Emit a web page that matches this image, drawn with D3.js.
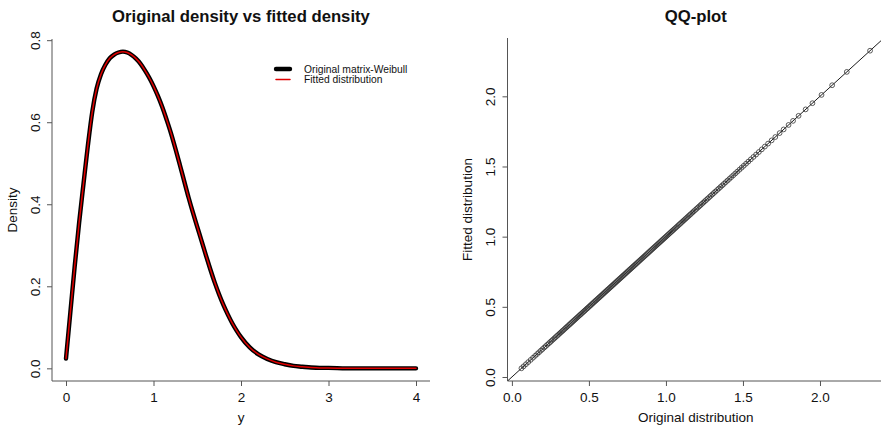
<!DOCTYPE html>
<html>
<head>
<meta charset="utf-8">
<script src="https://cdn.jsdelivr.net/npm/d3@7"></script>
<style>
  body { margin: 0; background: #fff; }
  svg { display: block; font-family: "Liberation Sans", Arial, Helvetica, sans-serif; }
</style>
</head>
<body>
<svg id="chart" width="881" height="431"></svg>
<script>
// left panel: density curves
var yGrid = [0, 0.05, 0.1, 0.15, 0.2, 0.25, 0.3, 0.35, 0.4, 0.45, 0.5, 0.55, 0.6, 0.65, 0.7, 0.75, 0.8, 0.85, 0.9, 0.95,
  1, 1.05, 1.1, 1.15, 1.2, 1.25, 1.3, 1.35, 1.4, 1.45, 1.5, 1.55, 1.6, 1.65, 1.7, 1.75, 1.8, 1.85, 1.9, 1.95,
  2, 2.1, 2.2, 2.3, 2.4, 2.5, 2.6, 2.7, 2.8, 2.9, 3, 3.2, 3.4, 3.6, 3.8, 4];
var originalDensity = [0.024, 0.137, 0.250, 0.355, 0.450, 0.543, 0.625, 0.682, 0.717, 0.740, 0.756, 0.765, 0.770, 0.772, 0.770, 0.764, 0.755, 0.743, 0.727, 0.709,
  0.688, 0.664, 0.637, 0.606, 0.573, 0.536, 0.497, 0.457, 0.417, 0.380, 0.345, 0.310, 0.275, 0.241, 0.209, 0.180, 0.154, 0.131, 0.110, 0.092,
  0.076, 0.051, 0.034, 0.023, 0.015, 0.010, 0.006, 0.004, 0.002, 0.001, 0.001, 0, 0, 0, 0, 0];
var fittedDensity = [0.024, 0.137, 0.250, 0.355, 0.450, 0.543, 0.625, 0.682, 0.717, 0.740, 0.756, 0.765, 0.770, 0.772, 0.770, 0.764, 0.755, 0.743, 0.727, 0.709,
  0.688, 0.664, 0.637, 0.606, 0.573, 0.536, 0.497, 0.457, 0.417, 0.380, 0.345, 0.310, 0.275, 0.241, 0.209, 0.180, 0.154, 0.131, 0.110, 0.092,
  0.076, 0.051, 0.034, 0.023, 0.015, 0.010, 0.006, 0.004, 0.002, 0.001, 0.001, 0, 0, 0, 0, 0];
var densityTicksX = [0, 1, 2, 3, 4];
var densityTicksY = [0, 0.2, 0.4, 0.6, 0.8];
var legendLabels = ["Original matrix-Weibull", "Fitted distribution"];

// right panel: quantiles (fitted ones sit on top of the original ones)
var originalQuantiles = [0.062, 0.076, 0.091, 0.106, 0.122, 0.137, 0.151, 0.164, 0.176, 0.188,
  0.199, 0.210, 0.220, 0.230, 0.240, 0.249, 0.258, 0.267, 0.276, 0.284,
  0.293, 0.301, 0.309, 0.317, 0.325, 0.332, 0.340, 0.348, 0.355, 0.362,
  0.370, 0.377, 0.384, 0.391, 0.398, 0.405, 0.412, 0.419, 0.426, 0.433,
  0.440, 0.446, 0.453, 0.460, 0.467, 0.473, 0.480, 0.487, 0.493, 0.500,
  0.507, 0.513, 0.520, 0.526, 0.533, 0.540, 0.546, 0.553, 0.559, 0.566,
  0.572, 0.579, 0.585, 0.592, 0.598, 0.605, 0.611, 0.618, 0.624, 0.631,
  0.637, 0.644, 0.650, 0.657, 0.663, 0.670, 0.676, 0.683, 0.689, 0.696,
  0.702, 0.709, 0.715, 0.722, 0.728, 0.735, 0.741, 0.748, 0.754, 0.761,
  0.767, 0.774, 0.780, 0.787, 0.793, 0.800,
  0.806, 0.813, 0.820, 0.827, 0.834, 0.841, 0.848, 0.855, 0.862, 0.869,
  0.876, 0.883, 0.890, 0.897, 0.904, 0.911, 0.918, 0.925, 0.932, 0.939,
  0.946, 0.953, 0.960, 0.967, 0.974, 0.981, 0.988, 0.995, 1.002, 1.009,
  1.016, 1.023, 1.030, 1.037, 1.044, 1.051, 1.059, 1.067, 1.075, 1.083,
  1.091, 1.099, 1.107, 1.115, 1.123, 1.131, 1.139, 1.147, 1.155, 1.163,
  1.172, 1.180, 1.189, 1.198, 1.207, 1.216, 1.225, 1.234, 1.243, 1.252,
  1.261, 1.271, 1.281, 1.291, 1.301, 1.311, 1.321, 1.332, 1.343, 1.354,
  1.365, 1.376, 1.388, 1.400, 1.412, 1.424, 1.437, 1.450, 1.463, 1.477,
  1.491, 1.505, 1.520, 1.535, 1.551, 1.568, 1.585, 1.603, 1.622, 1.642,
  1.663, 1.686, 1.710, 1.738, 1.764, 1.796, 1.825, 1.861, 1.907, 1.951,
  2.010, 2.079, 2.174, 2.325];
var fittedQuantiles = originalQuantiles;
var qqTicks = [0, 0.5, 1, 1.5, 2];

var svg = d3.select("#chart");
var axisCol = "#555";
var fs = 13.5;

// R style 4% padding of the data range
function padded(ext) {
  var r = ext[1] - ext[0];
  return [ext[0] - 0.04 * r, ext[1] + 0.04 * r];
}

function drawPanel(g, x, y, opts) {
  var r0 = x.range(), d0 = y.range();
  // L shaped box
  g.append("path")
    .attr("d", "M" + r0[0] + "," + d0[1] + "V" + d0[0] + "H" + r0[1])
    .attr("fill", "none").attr("stroke", axisCol).attr("stroke-width", 1);

  var xa = g.append("g").attr("transform", "translate(0," + d0[0] + ")")
    .call(d3.axisBottom(x).tickValues(opts.xTicks).tickSize(5).tickPadding(6.4).tickFormat(opts.xFmt));
  var ya = g.append("g").attr("transform", "translate(" + r0[0] + ",0)")
    .call(d3.axisLeft(y).tickValues(opts.yTicks).tickSize(5).tickFormat(opts.yFmt));
  [xa, ya].forEach(function (a) {
    a.select(".domain").remove();
    a.selectAll("line").attr("stroke", axisCol);
    a.selectAll("text").attr("fill", "#111").style("font-size", fs + "px")
      .style("font-family", '"Liberation Sans", Arial, sans-serif');
  });
  ya.selectAll("text")
    .attr("x", null).attr("dy", null)
    .attr("text-anchor", "middle")
    .attr("transform", "translate(-12.5,0) rotate(-90)");

  // titles
  g.append("text")
    .attr("x", (r0[0] + r0[1]) / 2).attr("y", 22)
    .attr("text-anchor", "middle")
    .style("font-size", "16.7px").style("font-weight", "bold").attr("fill", "#111")
    .text(opts.title);
  g.append("text")
    .attr("x", (r0[0] + r0[1]) / 2).attr("y", 422)
    .attr("text-anchor", "middle")
    .style("font-size", fs + "px").attr("fill", "#111")
    .text(opts.xLab);
  g.append("text")
    .attr("transform", "translate(" + (r0[0] - 35.5) + "," + ((d0[0] + d0[1]) / 2) + ") rotate(-90)")
    .attr("text-anchor", "middle")
    .style("font-size", fs + "px").attr("fill", "#111")
    .text(opts.yLab);
}

// ---------- left: densities ----------
var xD = d3.scaleLinear().domain(padded(d3.extent(yGrid))).range([52, 430]);
var yD = d3.scaleLinear().domain(padded(d3.extent(originalDensity))).range([381, 39]);
var left = svg.append("g");
drawPanel(left, xD, yD, {
  xTicks: densityTicksX, yTicks: densityTicksY,
  xFmt: d3.format("d"), yFmt: d3.format(".1f"),
  title: "Original density vs fitted density", xLab: "y", yLab: "Density"
});

var line = d3.line()
  .x(function (d, i) { return xD(yGrid[i]); })
  .y(function (d) { return yD(d); })
  .curve(d3.curveMonotoneX);

left.append("path")
  .datum(originalDensity)
  .attr("d", line)
  .attr("fill", "none").attr("stroke", "#000").attr("stroke-width", 4.4)
  .attr("stroke-linecap", "round").attr("stroke-linejoin", "round");
left.append("path")
  .datum(fittedDensity)
  .attr("d", line)
  .attr("fill", "none").attr("stroke", "#e00000").attr("stroke-width", 1.5)
  .attr("stroke-linecap", "round").attr("stroke-linejoin", "round");

// legend
var legend = left.append("g").attr("transform", "translate(275,69)");
var legendStyles = [{ col: "#000", w: 4.4 }, { col: "#e00000", w: 1.5 }];
legendLabels.forEach(function (lab, i) {
  legend.append("line")
    .attr("x1", 1).attr("x2", 15).attr("y1", i * 10.5).attr("y2", i * 10.5)
    .attr("stroke", legendStyles[i].col).attr("stroke-width", legendStyles[i].w)
    .attr("stroke-linecap", "round");
  legend.append("text")
    .attr("x", 29).attr("y", i * 10.5 + 3.7)
    .style("font-size", "10.3px").attr("fill", "#111")
    .text(lab);
});

// ---------- right: QQ-plot ----------
var xQ = d3.scaleLinear().domain(padded(d3.extent(originalQuantiles))).range([507.5, 884]);
var yQ = d3.scaleLinear().domain(padded(d3.extent(fittedQuantiles))).range([381, 38]);
var right = svg.append("g");
drawPanel(right, xQ, yQ, {
  xTicks: qqTicks, yTicks: qqTicks,
  xFmt: d3.format(".1f"), yFmt: d3.format(".1f"),
  title: "QQ-plot", xLab: "Original distribution", yLab: "Fitted distribution"
});

svg.append("clipPath").attr("id", "qqclip")
  .append("rect")
  .attr("x", 507.5).attr("y", 38).attr("width", 884 - 507.5).attr("height", 381 - 38);

// identity line y = x across the plot region
var dom = xQ.domain();
right.append("line")
  .attr("clip-path", "url(#qqclip)")
  .attr("x1", xQ(dom[0])).attr("y1", yQ(dom[0]))
  .attr("x2", xQ(dom[1] + 1)).attr("y2", yQ(dom[1] + 1))
  .attr("stroke", "#000").attr("stroke-width", 0.9);

right.append("g").selectAll("circle")
  .data(originalQuantiles)
  .join("circle")
  .attr("cx", function (d) { return xQ(d); })
  .attr("cy", function (d, i) { return yQ(fittedQuantiles[i]); })
  .attr("r", 2.4)
  .attr("fill", "none").attr("stroke", "#333").attr("stroke-width", 0.8);
</script>
</body>
</html>
